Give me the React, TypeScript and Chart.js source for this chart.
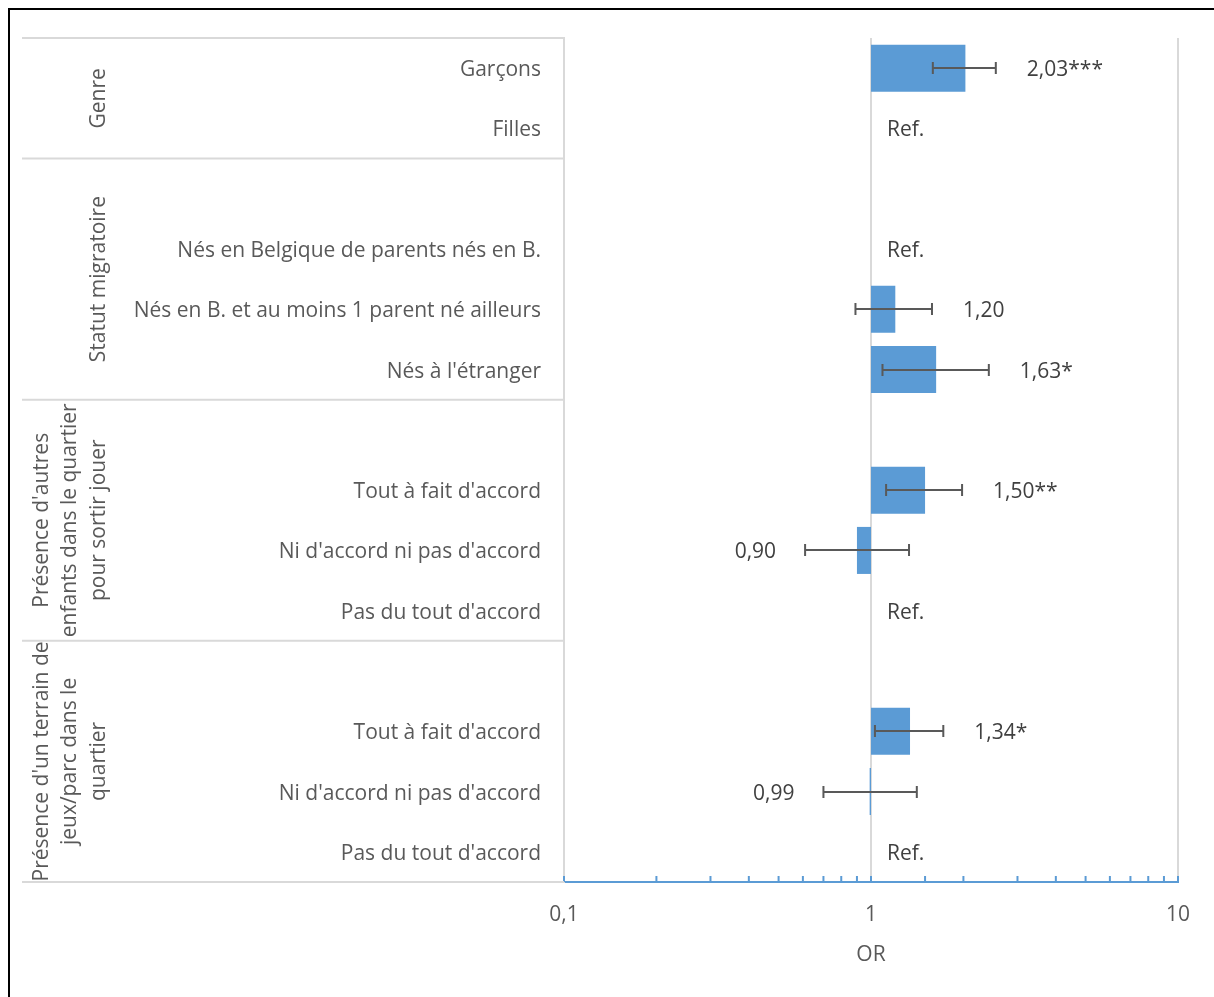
import React, { useEffect, useRef } from 'react';
import { Chart, registerables } from 'chart.js';

Chart.register(...registerables);

// ---- Data ----
const categories = [
  'Garçons',
  'Filles',
  '',
  'Nés en Belgique de parents nés en B.',
  'Nés en B. et au moins 1 parent né ailleurs',
  "Nés à l'étranger",
  '',
  "Tout à fait d'accord",
  "Ni d'accord ni pas d'accord",
  "Pas du tout d'accord",
  '',
  "Tout à fait d'accord",
  "Ni d'accord ni pas d'accord",
  "Pas du tout d'accord",
];
const orValues: (number | null)[] = [2.03, null, null, null, 1.2, 1.63, null, 1.5, 0.9, null, null, 1.34, 0.99, null];
const ciLower: (number | null)[] = [1.59, null, null, null, 0.89, 1.09, null, 1.12, 0.61, null, null, 1.03, 0.7, null];
const ciUpper: (number | null)[] = [2.55, null, null, null, 1.58, 2.42, null, 1.98, 1.33, null, null, 1.72, 1.41, null];
const valueLabels = ['2,03***', 'Ref.', '', 'Ref.', '1,20', '1,63*', '', '1,50**', '0,90', 'Ref.', '', '1,34*', '0,99', 'Ref.'];
const groupNames = [
  ['Genre'],
  ['Statut migratoire'],
  ["Présence d'autres", 'enfants dans le quartier', 'pour sortir jouer'],
  ["Présence d'un terrain de", 'jeux/parc dans le', 'quartier'],
];
const groupFirstRow = [0, 2, 6, 10];
const groupLastRow = [1, 5, 9, 13];
const xTickLabels: Record<string, string> = { '0.1': '0,1', '1': '1', '10': '10' };
const xMin = 0.1;
const xMax = 10;
const refValue = 1;
const axisTitle = 'OR';

const FONT = "'Open Sans', sans-serif";
const FONT_SIZE = 21;
const LABEL_COLOR = '#595959';
const VALUE_COLOR = '#404040';
const BAR_COLOR = '#5B9BD5';
const GRID_COLOR = '#D9D9D9';
const TEXT_SHIFT = 2;

const overlayPlugin = {
  id: 'forestOverlay',
  afterDatasetsDraw(chart: any) {
    const { ctx, scales } = chart;
    const x = scales.x;
    const y = scales.y;
    ctx.save();
    // error bars
    ctx.strokeStyle = '#595959';
    ctx.lineWidth = 2;
    for (let i = 0; i < categories.length; i++) {
      const lo = ciLower[i];
      const hi = ciUpper[i];
      if (lo == null || hi == null) continue;
      const py = Math.round(y.getPixelForValue(i));
      const x1 = x.getPixelForValue(lo);
      const x2 = x.getPixelForValue(hi);
      ctx.beginPath();
      ctx.moveTo(x1, py);
      ctx.lineTo(x2, py);
      ctx.moveTo(x1, py - 6);
      ctx.lineTo(x1, py + 6);
      ctx.moveTo(x2, py - 6);
      ctx.lineTo(x2, py + 6);
      ctx.stroke();
    }
    // value labels
    ctx.font = `${FONT_SIZE}px ${FONT}`;
    ctx.fillStyle = VALUE_COLOR;
    ctx.textBaseline = 'middle';
    for (let i = 0; i < categories.length; i++) {
      const txt = valueLabels[i];
      if (!txt) continue;
      const py = y.getPixelForValue(i) + TEXT_SHIFT;
      const v = orValues[i];
      if (v == null) {
        ctx.textAlign = 'left';
        ctx.fillText(txt, x.getPixelForValue(refValue) + 16, py);
      } else if (v >= refValue) {
        ctx.textAlign = 'left';
        ctx.fillText(txt, x.getPixelForValue(ciUpper[i] as number) + 31, py);
      } else {
        ctx.textAlign = 'right';
        ctx.fillText(txt, x.getPixelForValue(ciLower[i] as number) - 29, py);
      }
    }
    ctx.restore();
  },
  afterDraw(chart: any) {
    const { ctx, scales, chartArea } = chart;
    const x = scales.x;
    const y = scales.y;
    ctx.save();
    // inside tick marks on x axis
    ctx.strokeStyle = BAR_COLOR;
    ctx.lineWidth = 2;
    x.ticks.forEach((t: any) => {
      const px = x.getPixelForValue(t.value);
      ctx.beginPath();
      ctx.moveTo(px, chartArea.bottom);
      ctx.lineTo(px, chartArea.bottom - 6);
      ctx.stroke();
    });
    // group separators in label area
    const boundary = (row: number, after: boolean) => {
      if (!after && row === 0) return chartArea.top;
      if (after && row === categories.length - 1) return chartArea.bottom;
      const a = y.getPixelForValue(row);
      const b = y.getPixelForValue(after ? row + 1 : row - 1);
      return (a + b) / 2;
    };
    ctx.strokeStyle = GRID_COLOR;
    ctx.lineWidth = 2;
    const ys: number[] = [boundary(0, false)];
    groupLastRow.forEach((r) => ys.push(boundary(r, true)));
    ys.forEach((py) => {
      ctx.beginPath();
      ctx.moveTo(12, py);
      ctx.lineTo(chartArea.left, py);
      ctx.stroke();
    });
    // group labels (rotated)
    ctx.font = `${FONT_SIZE}px ${FONT}`;
    ctx.fillStyle = LABEL_COLOR;
    ctx.textAlign = 'center';
    ctx.textBaseline = 'middle';
    const lastLineX = 89;
    const lineGap = 28.5;
    groupNames.forEach((lines, g) => {
      const top = boundary(groupFirstRow[g], false);
      const bot = boundary(groupLastRow[g], true);
      const cy = (top + bot) / 2;
      const n = lines.length;
      lines.forEach((line, j) => {
        const cx = lastLineX - (n - 1 - j) * lineGap;
        ctx.save();
        ctx.translate(cx, cy);
        ctx.rotate(-Math.PI / 2);
        ctx.fillText(line, 0, 0);
        ctx.restore();
      });
    });
    ctx.restore();
  },
};

export default function App() {
  const canvasRef = useRef<HTMLCanvasElement | null>(null);

  useEffect(() => {
    document.documentElement.style.overflow = 'hidden';
    document.body.style.overflow = 'hidden';
    document.body.style.margin = '0';
    const canvas = canvasRef.current;
    if (!canvas) return;
    const chart = new Chart(canvas, {
      type: 'bar',
      data: {
        labels: categories,
        datasets: [
          {
            label: 'OR',
            data: orValues.map((v) => (v == null ? null : v >= refValue ? [refValue, v] : [v, refValue])) as any,
            backgroundColor: BAR_COLOR,
            borderWidth: 0,
            barPercentage: 0.78,
            categoryPercentage: 1,
          },
        ],
      },
      options: {
        indexAxis: 'y',
        responsive: false,
        animation: false,
        layout: { padding: { top: 28, right: 28, left: 0, bottom: 0 } },
        plugins: {
          legend: { display: false },
          tooltip: { enabled: false },
        },
        scales: {
          x: {
            type: 'logarithmic',
            min: xMin,
            max: xMax,
            afterFit: (scale: any) => {
              scale.height = 107;
              scale.paddingLeft = 0;
              scale.paddingRight = 0;
            },
            border: { display: true, color: BAR_COLOR, width: 2 },
            grid: {
              drawTicks: false,
              lineWidth: 2,
              color: (ctx: any) => {
                const v = ctx.tick ? ctx.tick.value : null;
                return v === 1 || v === 10 ? GRID_COLOR : 'rgba(0,0,0,0)';
              },
            },
            ticks: {
              autoSkip: false,
              maxRotation: 0,
              padding: 20,
              color: LABEL_COLOR,
              font: { family: FONT, size: FONT_SIZE },
              callback: (value: any) => {
                const key = String(Number(value));
                return xTickLabels[key] ?? '';
              },
            },
            title: {
              display: true,
              text: axisTitle,
              color: LABEL_COLOR,
              font: { family: FONT, size: FONT_SIZE },
              padding: { top: 0, bottom: 21 },
            },
          },
          y: {
            type: 'category',
            afterFit: (scale: any) => {
              scale.width = 554;
              scale.paddingTop = 0;
              scale.paddingBottom = 0;
            },
            border: { display: true, color: GRID_COLOR, width: 2 },
            grid: { display: false, drawTicks: false },
            ticks: {
              autoSkip: false,
              padding: 23,
              labelOffset: TEXT_SHIFT,
              color: LABEL_COLOR,
              font: { family: FONT, size: FONT_SIZE },
            },
          },
        },
      },
      plugins: [overlayPlugin],
    } as any);
    return () => chart.destroy();
  }, []);

  return (
    <div
      style={{
        position: 'absolute',
        left: 8,
        top: 8,
        borderTop: '2px solid #000',
        borderLeft: '2px solid #000',
        width: 1240,
        height: 1020,
        background: '#fff',
      }}
    >
      <canvas ref={canvasRef} width={1196} height={979} style={{ display: 'block', width: 1196, height: 979 }} />
    </div>
  );
}
